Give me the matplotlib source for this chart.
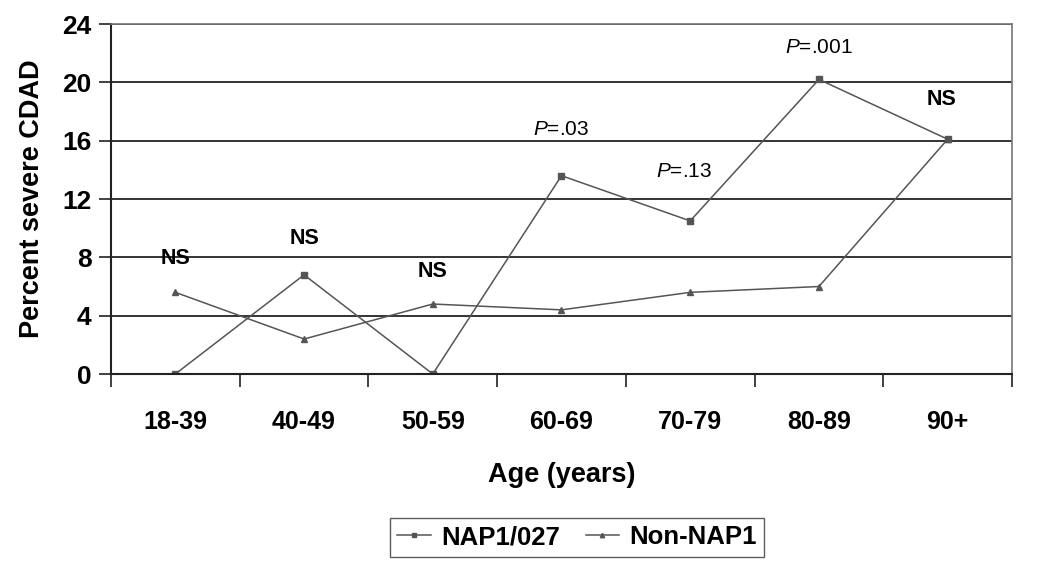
import matplotlib.pyplot as plt
import numpy as np

plt.rcParams['font.family'] = ['Liberation Sans', 'DejaVu Sans']
plt.rcParams['mathtext.fontset'] = 'custom'
plt.rcParams['mathtext.it'] = 'Liberation Sans:italic'
plt.rcParams['mathtext.rm'] = 'Liberation Sans'

ages = ['18-39', '40-49', '50-59', '60-69', '70-79', '80-89', '90+']
nap1 = [0, 6.8, 0, 13.6, 10.5, 20.2, 16.1]
non_nap1 = [5.6, 2.4, 4.8, 4.4, 5.6, 6.0, 16.1]
notes = ['NS', 'NS', 'NS', r'$P$=.03', r'$P$=.13', r'$P$=.001', 'NS']
note_y = [7.9, 9.3, 7.0, 16.8, 13.9, 22.4, 18.8]
note_dx = [0, 0, 0, 0, -0.05, 0, -0.05]

fig = plt.figure(figsize=(10.51, 5.61), dpi=100)
ax = fig.add_axes([0.1056, 0.3333, 0.8573, 0.6239])

x = np.arange(len(ages))
ax.plot(x, nap1, color='#555555', lw=1.1, marker='s', ms=4, label='NAP1/027')
ax.plot(x, non_nap1, color='#555555', lw=1.1, marker='^', ms=4, label='Non-NAP1')

for xi, t, yy, dx in zip(x, notes, note_y, note_dx):
    if t == 'NS':
        ax.text(xi + dx, yy, t, ha='center', va='center', fontsize=15.5, fontweight='bold')
    else:
        ax.text(xi + dx, yy, t, ha='center', va='center', fontsize=15)

ax.set_ylim(0, 24)
ax.set_yticks(range(0, 25, 4))
ax.set_xlim(-0.5, 6.5)
ax.set_xticks(x)
ax.set_xticklabels(ages)
ax.set_xticks(np.arange(-0.5, 7, 1), minor=True)
ax.tick_params(axis='x', which='major', length=0, pad=26, labelsize=18)
ax.tick_params(axis='x', which='minor', length=9, width=1.3, color='#333333')
ax.tick_params(axis='y', length=9, width=1.3, color='#333333', labelsize=19, pad=5)
for lab in ax.get_xticklabels() + ax.get_yticklabels():
    lab.set_fontweight('bold')

ax.yaxis.grid(True, color='#333333', lw=1.4)
ax.set_axisbelow(True)
for s in ['left', 'bottom']:
    ax.spines[s].set_color('#222222')
    ax.spines[s].set_linewidth(1.5)
for s in ['top', 'right']:
    ax.spines[s].set_color('#777777')
    ax.spines[s].set_linewidth(1.2)

ax.set_xlabel('Age (years)', fontsize=19.5, fontweight='bold', labelpad=20)
ax.set_ylabel('Percent severe CDAD', fontsize=19.5, fontweight='bold', labelpad=12)

leg = fig.legend(loc='center', bbox_to_anchor=(0.549, 0.042), ncol=2, frameon=True,
                 fancybox=False, edgecolor='#333333', fontsize=18.5, handlelength=1.3,
                 handletextpad=0.4, columnspacing=1.0, borderpad=0.3, markerscale=0.8)
for t in leg.get_texts():
    t.set_fontweight('bold')

fig.savefig('out.png', dpi=100)
